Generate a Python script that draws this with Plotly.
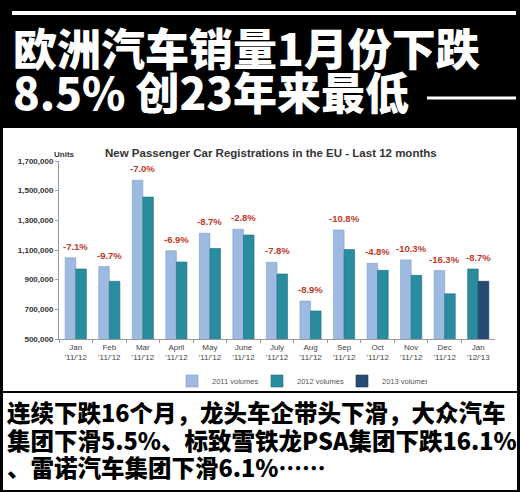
import plotly.graph_objects as go

W, H = 520, 492

months = ["Jan", "Feb", "Mar", "April", "May", "June", "July", "Aug", "Sep", "Oct", "Nov", "Dec", "Jan"]
periods = ["'11/'12"] * 12 + ["'12/'13"]
vol_2011 = [1048000, 988000, 1570000, 1095000, 1213000, 1240000, 1017000, 756000, 1235000, 1010000, 1033000, 961000]
vol_2012 = [972000, 889000, 1457000, 1019000, 1110000, 1201000, 938000, 689000, 1103000, 963000, 929000, 805000]
vol_2012_jan = [972000]
vol_2013 = [889000]
changes = ["-7.1%", "-9.7%", "-7.0%", "-6.9%", "-8.7%", "-2.8%", "-7.8%", "-8.9%",
           "-10.8%", "-4.8%", "-10.3%", "-16.3%", "-8.7%"]

headline = ["欧洲汽车销量1月份下跌", "8.5% 创23年来最低"]
summary = ["连续下跌16个月，龙头车企带头下滑，大众汽车",
           "集团下滑5.5%、标致雪铁龙PSA集团下跌16.1%",
           "、雷诺汽车集团下滑6.1%……"]

cats = [f"{m}<br>{p}" for m, p in zip(months, periods)]

C2011, C2012, C2013 = "#9dbbe0", "#2a8c9f", "#284b73"
CJK = "Noto Sans CJK SC"


def px_x(x):
    return x / W


def px_y(y):
    return 1 - y / H


fig = go.Figure()
fig.add_bar(x=cats[:12], y=vol_2011, name="2011 volumes", offsetgroup="a",
            marker=dict(color=C2011, line=dict(color="#7d9cc6", width=0.6)))
fig.add_bar(x=cats[:12], y=vol_2012, name="2012 volumes", offsetgroup="b", legendgroup="2012",
            marker=dict(color=C2012, line=dict(color="#1e6c7d", width=0.6)))
fig.add_bar(x=cats[12:], y=vol_2012_jan, name="2012 volumes", offsetgroup="a", legendgroup="2012",
            showlegend=False, marker=dict(color=C2012, line=dict(color="#1e6c7d", width=0.6)))
fig.add_bar(x=cats[12:], y=vol_2013, name="2013 volumes", offsetgroup="b",
            marker=dict(color=C2013, line=dict(color="#1b3554", width=0.6)))

# % change labels above each pair
tops = [max(a, b) for a, b in zip(vol_2011, vol_2012)] + [max(vol_2012_jan[0], vol_2013[0])]
for c, t, lab in zip(cats, tops, changes):
    fig.add_annotation(x=c, y=t, text=lab, showarrow=False, yanchor="bottom", yshift=4,
                       font=dict(family="Liberation Sans", size=9.5, color="#c0392b", weight="bold"))

# chart title and units
fig.add_annotation(x=px_x(271), y=px_y(145), xref="paper", yref="paper", showarrow=False,
                   text="New Passenger Car Registrations in the EU - Last 12 months",
                   font=dict(family="Liberation Sans", size=11.5, color="#333333", weight="bold"))
fig.add_annotation(x=px_x(52), y=px_y(148), xref="paper", yref="paper", showarrow=False,
                   text="Units", font=dict(family="Liberation Sans", size=8, color="#333333", weight="bold"))

# headline in white on black
for txt, yc in zip(headline, [47, 91]):
    fig.add_annotation(x=px_x(11), y=px_y(yc), xref="paper", yref="paper", showarrow=False,
                       xanchor="left", yanchor="middle", text=txt,
                       font=dict(family=CJK, size=44, color="white", weight=900))

# summary text in black below chart
for txt, yc in zip(summary, [412, 440, 467]):
    fig.add_annotation(x=px_x(5), y=px_y(yc), xref="paper", yref="paper", showarrow=False,
                       xanchor="left", yanchor="middle", text=txt,
                       font=dict(family=CJK, size=23.5, color="black", weight=900))

shapes = [
    dict(type="rect", x0=px_x(3), x1=px_x(517), y0=px_y(490), y1=px_y(128),
         fillcolor="white", line=dict(width=0), layer="below"),
    dict(type="line", x0=px_x(3), x1=px_x(517), y0=px_y(392), y1=px_y(392),
         line=dict(color="black", width=2)),
    dict(type="line", x0=px_x(12), x1=px_x(516), y0=px_y(13), y1=px_y(13),
         line=dict(color="white", width=4)),
    dict(type="line", x0=px_x(427), x1=px_x(516), y0=px_y(98), y1=px_y(98),
         line=dict(color="white", width=3)),
]
for s in shapes:
    s.update(xref="paper", yref="paper")

fig.update_layout(
    width=W, height=H,
    template="none",
    paper_bgcolor="black",
    plot_bgcolor="rgba(0,0,0,0)",
    margin=dict(l=0, r=0, t=0, b=0, pad=0),
    barmode="group", bargap=0.37, bargroupgap=0,
    shapes=shapes,
    showlegend=True,
    legend=dict(orientation="h", x=px_x(172), y=px_y(381), xanchor="left", yanchor="middle",
                font=dict(family="Liberation Sans", size=7.5, color="#555555"),
                bgcolor="rgba(0,0,0,0)", entrywidth=40, entrywidthmode="pixels",
                itemwidth=30, traceorder="normal"),
    xaxis=dict(domain=[px_x(59), px_x(495)], automargin=False, showgrid=False,
               showline=True, linecolor="#9a9a9a", linewidth=1, tickangle=0,
               ticks="outside", tickson="boundaries", ticklen=3, tickcolor="#9a9a9a",
               tickfont=dict(family="Liberation Sans", size=8, color="#444444")),
    yaxis=dict(domain=[px_y(339), px_y(161)], automargin=False, range=[500000, 1700000],
               tick0=500000, dtick=200000, tickformat=",d", showgrid=False, zeroline=False,
               showline=True, linecolor="#9a9a9a", linewidth=1,
               ticks="outside", ticklen=3, tickcolor="#9a9a9a",
               tickfont=dict(family="Liberation Sans", size=8, color="#333333", weight="bold")),
)

fig.write_html("out.html", config={"displayModeBar": False},
               post_script="document.body.style.margin='0';")
